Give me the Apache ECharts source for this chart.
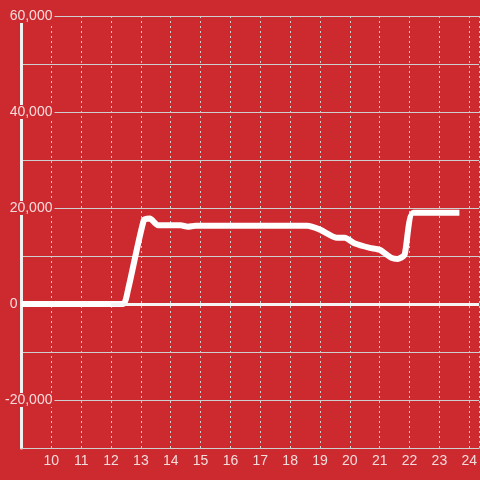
<!DOCTYPE html>
<html>
<head>
<meta charset="utf-8">
<script src="https://cdn.jsdelivr.net/npm/echarts@6/dist/echarts.min.js"></script>
<style>
  html, body { margin: 0; padding: 0; background: #cd2a30; }
  #chart { width: 480px; height: 480px; }
</style>
</head>
<body>
<div id="chart"></div>
<script>
  // hour of day, value
  var hours  = [9.0, 12.4, 12.57, 13.1, 13.3, 13.57, 14.33, 14.57, 14.83, 18.57, 19.0, 19.57, 19.83, 20.17, 20.67, 21.0, 21.4, 21.6, 21.83, 22.13, 23.67];
  var values = [0, 0, 3000, 17500, 17800, 16400, 16400, 16100, 16300, 16300, 15500, 13800, 13800, 12600, 11700, 11300, 9600, 9400, 10200, 19000, 19000];
  var yTicks = [-30000, 60000, 10000]; // min, max, step

  var labelColor = '#f3dcdc'
  var gridColor = '#cfcfcf'
  var bg = '#cd2a30'

  var points = []
  hours.forEach(function (h, i) {
    points.push([h, values[i]])
  })

  var option = {
    backgroundColor: bg,
    animation: false,
    textStyle: { fontFamily: 'Liberation Sans' },
    grid: { left: 20, right: 0, top: 16, bottom: 32 },
    xAxis: {
      type: 'value',
      min: 9,
      max: 24.33,
      interval: 1,
      axisLine: { onZero: false, lineStyle: { color: gridColor, width: 1 } },
      axisTick: { show: false },
      axisLabel: {
        color: labelColor, fontSize: 14, margin: 6,
        showMinLabel: false, showMaxLabel: false
      },
      splitLine: { show: true, lineStyle: { color: gridColor, type: [2, 3], width: 1 } }
    },
    yAxis: {
      type: 'value',
      min: yTicks[0],
      max: yTicks[1],
      interval: yTicks[2],
      axisLine: { show: true, onZero: false, lineStyle: { color: '#f0f0f0', width: 3 } },
      axisTick: { show: false },
      axisLabel: {
        color: labelColor, fontSize: 14, margin: -33,
        formatter: function (v) {
          if (v % 20000 !== 0) return ''
          if (v === 0) return '{z|0}'
          return '{b|' + echarts.format.addCommas(v) + '}'
        },
        rich: {
          b: { color: labelColor, fontSize: 14, backgroundColor: bg, padding: [0, 2, 0, 2] },
          z: { color: labelColor, fontSize: 14, padding: [0, 37, 0, 0] }
        }
      },
      splitLine: { show: true, lineStyle: { color: gridColor, width: 1 } }
    },
    series: [{
      type: 'line',
      data: points,
      showSymbol: false,
      smooth: 0.2,
      lineStyle: { color: '#ffffff', width: 6 },
      markLine: {
        silent: true,
        symbol: 'none',
        label: { show: false },
        lineStyle: { color: '#f5f5f5', width: 3, type: 'solid' },
        data: [[{ coord: [12, 0] }, { coord: [24.33, 0] }]]
      }
    }]
  }

  var myChart = echarts.init(document.getElementById('chart'))
  myChart.setOption(option)
</script>
</body>
</html>
